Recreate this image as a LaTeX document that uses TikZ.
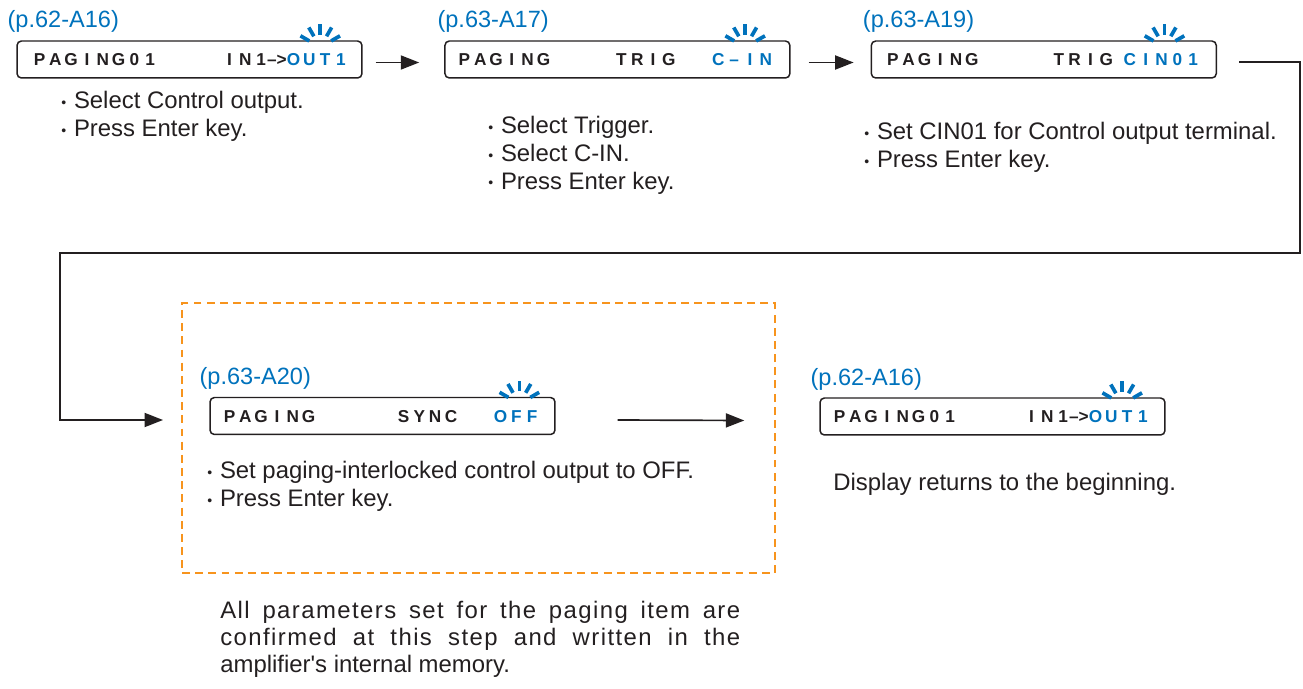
\documentclass[tikz,border=0pt]{standalone}
\usepackage{fontspec}
\setmainfont{Liberation Sans}[Ligatures=TeXOff]
\usetikzlibrary{positioning, calc, arrows.meta}

\definecolor{lcdblue}{RGB}{0,114,188}
\definecolor{ink}{RGB}{35,31,32}
\definecolor{markorange}{RGB}{247,148,29}

% display font: one character per cell
\newcommand\lcdfont{\fontsize{9.8}{11}\selectfont\bfseries}
\newcommand\notefont{\fontsize{13.6}{15.9}\selectfont}
\newcommand\lcdcell[1]{\makebox[9pt]{#1}}
\def\lcd#1{\lcdnext#1\relax}
\def\lcdnext#1{\ifx#1\relax\else\lcdcell{#1}\expandafter\lcdnext\fi}
\newcommand\lcdarrow{–>}
\newcommand\dotitem{\raisebox{0.9pt}{\fontsize{8}{8}\selectfont •}\hspace{4.4pt}}

% blinking marks above a display field
\newcommand\blink[1]{%
  \foreach \a in {30,60,...,150}
    \draw[blinkline] ([shift={(\a:7.2pt)}]#1) -- ([shift={(\a:13pt)}]#1);}

\begin{document}
\begin{tikzpicture}[x=0.02cm, y=-0.02cm, node distance=1.63cm,
    lcdbox/.style={draw=ink, line width=0.85pt, rounded corners=2.5pt, minimum width=6.9cm, minimum height=0.74cm},
    lcd/.style={inner sep=0pt, anchor=base west, text=ink, font=\lcdfont},
    lcdon/.style={lcd, text=lcdblue},
    ref/.style={inner sep=0pt, anchor=base west, text=lcdblue, font=\fontsize{13.4}{16}\selectfont},
    note/.style={inner sep=0pt, anchor=north west, text=ink, align=left, font=\notefont},
    flow/.style={draw=ink, line width=0.95pt, -{Triangle[length=10.5pt, width=8pt]}},
    blinkline/.style={draw=lcdblue, line width=2.1pt},
    group/.style={draw=markorange, line width=1.2pt, dash pattern=on 4.5pt off 3pt, minimum width=11.86cm, minimum height=5.4cm}]

\useasboundingbox (0,0) rectangle (1303,689);

% first row
\node[lcdbox] (b1) at (189.5,59.5) {};
\node[lcdbox, right=of b1] (b2) {};
\node[lcdbox, right=1.6cm of b2] (b3) {};

\node[ref] (r1) at ($(b1.north west)+(-9,-13)$) {(p.62-A16)};
\node[lcd] (p1) at ($(b1.west)+(15,6.5)$) {\lcd{PAGING01}};
\node[lcd] (i1) at ($(b1.west)+(205,6.5)$) {\lcd{IN1\lcdarrow}};
\node[lcdon] (v1) at (i1.base east) {\lcd{OUT1}};

\node[ref] (r2) at ($(b2.north west)+(-7,-13)$) {(p.63-A17)};
\node[lcd] (p2) at ($(b2.west)+(12,6.5)$) {\lcd{PAGING}};
\node[lcd] (m2) at ($(b2.west)+(169,6.5)$) {\lcd{TRIG}};
\node[lcdon] (v2) at ($(b2.west)+(266,6.5)$) {\lcd{C–IN}};

\node[ref] (r3) at ($(b3.north west)+(-8,-13)$) {(p.63-A19)};
\node[lcd] (p3) at ($(b3.west)+(14,6.5)$) {\lcd{PAGING}};
\node[lcd] (m3) at ($(b3.west)+(180,6.5)$) {\lcd{TRIG}};
\node[lcdon] (v3) at ($(b3.west)+(251,6.5)$) {\lcd{CIN01}};

\coordinate (k1) at ($(v1.center |- b1.north)+(3,7)$);
\coordinate (k2) at ($(v2.center |- b2.north)+(3,7)$);
\coordinate (k3) at ($(v3.center |- b3.north)+(3,7)$);
\blink{k1} \blink{k2} \blink{k3}

\draw[flow] ($(b1.east)+(13,3)$) -- ($(b2.west)+(-25,3)$);
\draw[flow] ($(b2.east)+(18,3)$) -- ($(b3.west)+(-17,3)$);

\node[note] (n1) at (61,91) {\dotitem Select Control output.\\\dotitem Press Enter key.};
\node[note] (n2) at (488,116) {\dotitem Select Trigger.\\\dotitem Select C-IN.\\\dotitem Press Enter key.};
\node[note] (n3) at (864,122) {\dotitem Set CIN01 for Control output terminal.\\\dotitem Press Enter key.};

% second row
\node[group] (grp) at (478.5,438) {};
\node[lcdbox] (b4) at (382.5,416) {};
\node[lcdbox] (b5) at (992.5,416.5) {};

\node[ref] (r4) at ($(b4.north west)+(-10,-12)$) {(p.63-A20)};
\node[lcd] (p4) at ($(b4.west)+(12,6.5)$) {\lcd{PAGING}};
\node[lcd] (m4) at ($(b4.west)+(186,6.5)$) {\lcd{SYNC}};
\node[lcdon] (v4) at ($(b4.west)+(283,6.5)$) {\lcd{OFF}};

\node[ref] (r5) at ($(b5.north west)+(-9,-12)$) {(p.62-A16)};
\node[lcd] (p5) at ($(b5.west)+(12,6.5)$) {\lcd{PAGING01}};
\node[lcd] (i5) at ($(b5.west)+(204,6.5)$) {\lcd{IN1\lcdarrow}};
\node[lcdon] (v5) at (i5.base east) {\lcd{OUT1}};

\coordinate (k4) at ($(v4.center |- b4.north)+(3,7)$);
\coordinate (k5) at ($(v5.center |- b5.north)+(3,7)$);
\blink{k4} \blink{k5}

\draw[flow] ($(b4.east)+(62,4)$) -- ($(b5.west)+(-75,4)$);

\node[note] (n4) at (207,461) {\dotitem Set paging-interlocked control output to OFF.\\\dotitem Press Enter key.};
\node[note] (n5) at (833,473) {Display returns to the beginning.};
\node[note, text width=10.4cm, align=justify, font=\fontsize{13.6}{15.4}\selectfont] (n6) at (220,601)
  {{\addfontfeature{LetterSpace=6}All parameters set for the paging item are\linebreak
   confirmed at this step and written in the}\linebreak amplifier's internal memory.};

% loop back from the last step of the first row
\coordinate (bendR) at (1300,253);
\coordinate (bendL) at (60,253);
\coordinate (entry) at (163,420);
\draw[flow] ($(b3.east)+(22,2.5)$) -| (bendR) -- (bendL) |- (entry);
\end{tikzpicture}
\end{document}
